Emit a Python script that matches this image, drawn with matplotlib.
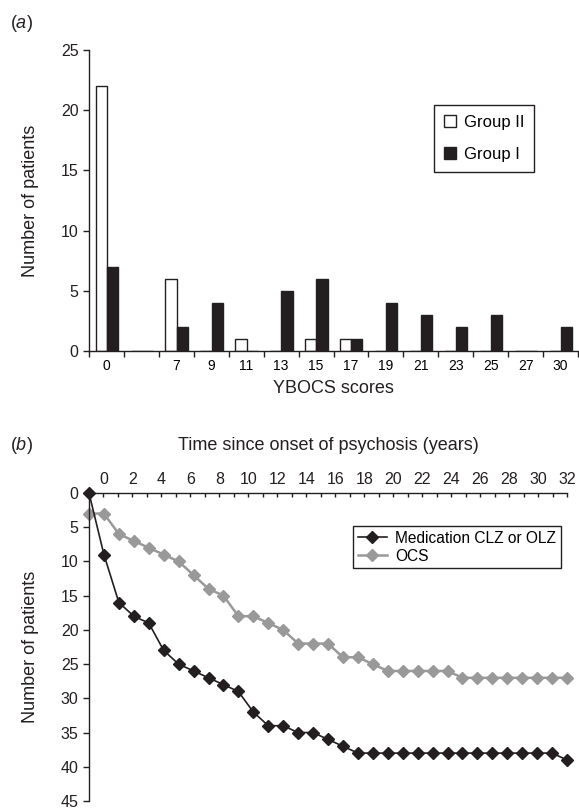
import numpy as np
import matplotlib
matplotlib.use("Agg")
import matplotlib.pyplot as plt

plt.rcParams['font.family'] = ['Liberation Sans Narrow', 'Liberation Sans', 'DejaVu Sans']
plt.rcParams['mathtext.fontset'] = 'custom'
plt.rcParams['mathtext.it'] = 'Liberation Sans:italic'

# panel (a): YBOCS score distribution
scores = ['0', '', '7', '9', '11', '13', '15', '17', '19', '21', '23', '25', '27', '30']
group2 = [22, 0, 6, 0, 1, 0, 1, 1, 0, 0, 0, 0, 0, 0]
group1 = [7, 0, 2, 4, 0, 5, 6, 1, 4, 3, 2, 3, 0, 2]

# panel (b): cumulative patients since onset of psychosis
year_ticks = [0, 2, 4, 6, 8, 10, 12, 14, 16, 18, 20, 22, 24, 26, 28, 30, 32]
points = [0, 1, 2, 3, 4, 5, 6, 7, 8, 9, 10, 11, 12, 13, 14, 15, 16,
          17, 18, 19, 20, 21, 22, 23, 24, 25, 26, 27, 28, 29, 30, 31, 32]
medication = [0, 9, 16, 18, 19, 23, 25, 26, 27, 28, 29, 32, 34, 34, 35, 35, 36,
              37, 38, 38, 38, 38, 38, 38, 38, 38, 38, 38, 38, 38, 38, 38, 39]
ocs = [3, 3, 6, 7, 8, 9, 10, 12, 14, 15, 18, 18, 19, 20, 22, 22, 22,
       24, 24, 25, 26, 26, 26, 26, 26, 27, 27, 27, 27, 27, 27, 27, 27]

dark = '#231f20'
grey = '#999999'
W, H = 579, 810

fig = plt.figure(figsize=(W / 100, H / 100), dpi=100)

# ---- (a)
ax_a = fig.add_axes([89 / W, 1 - 351 / H, (578 - 89) / W, (351 - 50) / H])
slots = np.arange(len(scores)) + 0.5
bw = 0.32
b2 = ax_a.bar(slots - bw / 2 + 0.01, group2, bw, color='white', edgecolor=dark, linewidth=1, label='Group II')
b1 = ax_a.bar(slots + bw / 2 + 0.01, group1, bw, color=dark, edgecolor=dark, linewidth=1, label='Group I')
ax_a.set_xlim(0, len(scores))
ax_a.set_ylim(0, 25)
ax_a.set_yticks([0, 5, 10, 15, 20, 25])
ax_a.set_xticks(np.arange(len(scores) + 1))
ax_a.set_xticklabels([])
ax_a.set_xticks(slots, minor=True)
ax_a.set_xticklabels(scores, minor=True)
ax_a.tick_params(axis='x', which='minor', length=0, pad=6)
ax_a.tick_params(axis='x', which='major', direction='out', length=4, width=1, color=dark)
ax_a.tick_params(axis='y', direction='out', length=4, width=1, color=dark)
ax_a.tick_params(labelsize=11.5, labelcolor=dark)
for s in ['top', 'right']:
    ax_a.spines[s].set_visible(False)
for s in ['left', 'bottom']:
    ax_a.spines[s].set_color(dark)
    ax_a.spines[s].set_linewidth(1)
ax_a.set_xlabel('YBOCS scores', fontsize=13, color=dark, labelpad=5)
ax_a.set_ylabel('Number of patients', fontsize=13, color=dark)
ax_a.yaxis.set_label_coords(-0.1025, 0.5)
leg = ax_a.legend(handles=[b2, b1], loc='upper left', bbox_to_anchor=(0.7055, 0.817),
                  fontsize=12, fancybox=False, edgecolor=dark, framealpha=1,
                  handlelength=0.7, handleheight=0.7, handletextpad=0.5,
                  labelspacing=1.0, borderpad=0.6, borderaxespad=0)
leg.get_frame().set_linewidth(1)
fig.text(10 / W, 1 - 23 / H, r'($\mathit{a}$)', fontsize=13, color=dark, va='center')

# ---- (b)
ax_b = fig.add_axes([89 / W, 1 - 801 / H, (567 - 89) / W, (801 - 493) / H])
ax_b.plot(points, medication, color=dark, lw=1.2, marker='D', ms=6, label='Medication CLZ or OLZ', clip_on=False, zorder=3)
ax_b.plot(points, ocs, color=grey, lw=1.8, marker='D', ms=6, label='OCS', clip_on=False, zorder=2)
ax_b.set_xlim(points[0], points[-1])
ax_b.set_ylim(45, 0)
ax_b.set_yticks([0, 5, 10, 15, 20, 25, 30, 35, 40, 45])
ax_b.set_xticks([])
ax_b.tick_params(axis='y', direction='out', length=4, width=1, color=dark, labelsize=11.5, labelcolor=dark)
for s in ['top', 'right', 'bottom']:
    ax_b.spines[s].set_visible(False)
ax_b.spines['left'].set_color(dark)
ax_b.spines['left'].set_linewidth(1)
ax_b.set_ylabel('Number of patients', fontsize=13, color=dark)
ax_b.yaxis.set_label_coords(-0.105, 0.5)

# year scale on top, offset from the data points
ax_t = ax_b.twiny()
ax_t.set_xlim(-1, 32)
ax_t.set_xticks(year_ticks)
ax_t.set_xticks(np.arange(0, 33), minor=True)
ax_t.tick_params(axis='x', which='both', direction='in', length=3, width=1, color=dark)
ax_t.tick_params(axis='x', labelsize=11.5, labelcolor=dark, pad=4)
for s in ['left', 'right', 'bottom']:
    ax_t.spines[s].set_visible(False)
ax_t.spines['top'].set_color(dark)
ax_t.spines['top'].set_linewidth(1)
ax_t.set_xlabel('Time since onset of psychosis (years)', fontsize=13, color=dark, labelpad=16)

h, l = ax_b.get_legend_handles_labels()
leg_b = ax_t.legend(h, l, loc='upper left', bbox_to_anchor=(0.552, 0.893),
                    fontsize=11.2, fancybox=False, edgecolor=dark, framealpha=1,
                    handlelength=1.9, handletextpad=0.5, labelspacing=0.2,
                    borderpad=0.3, borderaxespad=0)
leg_b.get_frame().set_linewidth(1)
fig.text(10 / W, 1 - 445 / H, r'($\mathit{b}$)', fontsize=13, color=dark, va='center')

fig.savefig('out.png', dpi=100)
